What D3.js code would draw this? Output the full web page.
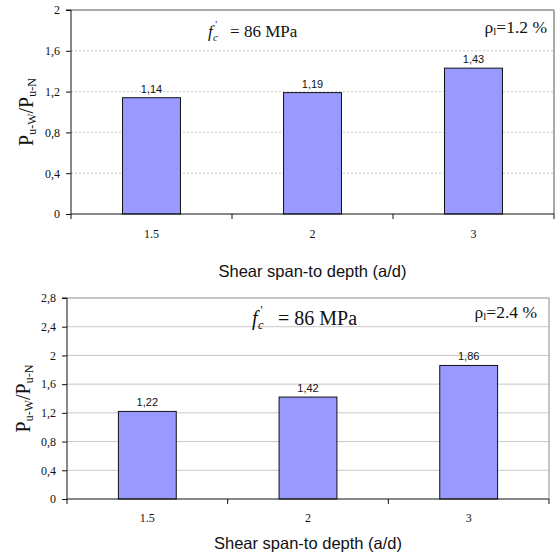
<!DOCTYPE html>
<html>
<head>
<meta charset="utf-8">
<script src="https://cdn.jsdelivr.net/npm/d3@7"></script>
<style>
  html, body { margin: 0; padding: 0; background: #fff; }
  svg { display: block; }
  .serif { font-family: "Liberation Serif", "Times New Roman", serif; }
  .sans { font-family: "Liberation Sans", Arial, sans-serif; }
</style>
</head>
<body>
<svg id="chart" width="555" height="557"></svg>
<script>
// ---- data ----
const categories = ["1.5", "2", "3"];
const valuesTop = [1.14, 1.19, 1.43];
const labelsTop = ["1,14", "1,19", "1,43"];
const valuesBottom = [1.22, 1.42, 1.86];
const labelsBottom = ["1,22", "1,42", "1,86"];
const ticksTop = [0, 0.4, 0.8, 1.2, 1.6, 2];
const tickLabelsTop = ["0", "0,4", "0,8", "1,2", "1,6", "2"];
const ticksBottom = [0, 0.4, 0.8, 1.2, 1.6, 2, 2.4, 2.8];
const tickLabelsBottom = ["0", "0,4", "0,8", "1,2", "1,6", "2", "2,4", "2,8"];
const xTitle = "Shear span-to depth (a/d)";
const rhoTop = "=1.2 %";
const rhoBottom = "=2.4 %";

const svg = d3.select("#chart");

function drawPanel(cfg) {
  const g = svg.append("g");
  const x = d3.scaleBand().domain(categories)
    .range([cfg.left, cfg.right]).paddingInner(0.64).paddingOuter(0.32);
  const y = d3.scaleLinear().domain([0, cfg.ymax]).range([cfg.bottom, cfg.top]);

  // gridlines
  g.selectAll("line.grid").data(cfg.ticks.filter(t => t > 0 && t < cfg.ymax))
    .enter().append("line")
    .attr("x1", cfg.left).attr("x2", cfg.right)
    .attr("y1", d => y(d)).attr("y2", d => y(d))
    .attr("stroke", cfg.gridColor).attr("stroke-width", 1)
    .attr("stroke-dasharray", cfg.gridDash || null);

  // top and right border
  g.append("line").attr("x1", cfg.left).attr("x2", cfg.right)
    .attr("y1", y(cfg.ymax)).attr("y2", y(cfg.ymax))
    .attr("stroke", "#8c8c8c").attr("stroke-width", cfg.borderW);
  g.append("line").attr("x1", cfg.right).attr("x2", cfg.right)
    .attr("y1", y(cfg.ymax)).attr("y2", y(0))
    .attr("stroke", "#8c8c8c").attr("stroke-width", cfg.borderW);

  // bars
  g.selectAll("rect.bar").data(cfg.values).enter().append("rect")
    .attr("x", (d, i) => x(categories[i]))
    .attr("y", d => y(d))
    .attr("width", x.bandwidth())
    .attr("height", d => y(0) - y(d))
    .attr("fill", "#9999ff").attr("stroke", "#111").attr("stroke-width", 1);

  // value labels
  g.selectAll("text.val").data(cfg.values).enter().append("text")
    .attr("class", "sans")
    .attr("x", (d, i) => x(categories[i]) + x.bandwidth() / 2)
    .attr("y", d => y(d) - 5)
    .attr("text-anchor", "middle")
    .style("font-size", "11px").attr("fill", "#111")
    .text((d, i) => cfg.labels[i]);

  // y axis
  const yAxis = d3.axisLeft(y).tickValues(cfg.ticks).tickSize(5).tickPadding(6)
    .tickFormat((d, i) => cfg.tickLabels[i]);
  const ya = g.append("g").attr("transform", `translate(${cfg.left},0)`).call(yAxis);
  ya.attr("font-family", null).attr("font-size", null);
  ya.select(".domain").attr("stroke", "#111").attr("d", `M-5,${y(cfg.ymax)}H0V${y(0)}`);
  ya.selectAll(".tick line").attr("stroke", "#111");
  ya.selectAll(".tick text").attr("class", "serif").style("font-size", "12px").attr("fill", "#111");

  // x axis
  const xa = g.append("g").attr("transform", `translate(0,${cfg.bottom})`);
  xa.append("line").attr("x1", cfg.left).attr("x2", cfg.right)
    .attr("y1", 0).attr("y2", 0).attr("stroke", "#111");
  const step = x.step();
  const bounds = categories.map(c => x(c) - (step - x.bandwidth()) / 2);
  bounds.push(cfg.right);
  xa.selectAll("line.xt").data(bounds).enter().append("line")
    .attr("x1", d => d).attr("x2", d => d).attr("y1", 0).attr("y2", 5)
    .attr("stroke", "#111");
  xa.selectAll("text.xl").data(categories).enter().append("text")
    .attr("class", "serif")
    .attr("x", d => x(d) + x.bandwidth() / 2)
    .attr("y", cfg.catBase - cfg.bottom)
    .attr("text-anchor", "middle")
    .style("font-size", "12px").attr("fill", "#111")
    .text(d => d);

  // x title
  g.append("text").attr("class", "sans")
    .attr("x", (cfg.left + cfg.right) / 2).attr("y", cfg.titleBase)
    .attr("text-anchor", "middle").style("font-size", "16.5px")
    .attr("fill", "#111").text(xTitle);

  // y title
  const yt = g.append("text").attr("class", "serif")
    .attr("transform", `translate(${cfg.ylabX},${(cfg.top + cfg.bottom) / 2}) rotate(-90)`)
    .attr("text-anchor", "middle").attr("fill", "#111");
  yt.append("tspan").style("font-size", "20px").text("P");
  yt.append("tspan").style("font-size", "12px").attr("dy", 3).text("u-W");
  yt.append("tspan").style("font-size", "20px").attr("dy", -3).text("/P");
  yt.append("tspan").style("font-size", "12px").attr("dy", 3).text("u-N");

  // f'c annotation
  const a = cfg.fc;
  g.append("text").attr("class", "serif").attr("x", a.x).attr("y", a.y)
    .style("font-style", "italic").style("font-size", a.fs + "px").attr("fill", "#111").text("f");
  g.append("text").attr("class", "serif").attr("x", a.x + a.fs * 0.3).attr("y", a.y + 4)
    .style("font-style", "italic").style("font-size", (a.fs * 0.62) + "px").attr("fill", "#111").text("c");
  g.append("text").attr("class", "serif").attr("x", a.x + a.fs * 0.42).attr("y", a.y - a.fs * 0.55)
    .style("font-size", (a.fs * 0.6) + "px").attr("fill", "#111").text("'");
  g.append("text").attr("class", "serif").attr("x", a.x + a.fs * 1.3).attr("y", a.y)
    .style("font-size", a.fs + "px").attr("fill", "#111").text(a.text);

  // rho annotation
  const r = g.append("text").attr("class", "serif").attr("x", cfg.rho.x).attr("y", cfg.rho.y)
    .attr("text-anchor", "end").attr("fill", "#111");
  r.append("tspan").style("font-size", "17.5px").text("ρ");
  r.append("tspan").style("font-size", "11px").attr("dy", 2).text("l");
  r.append("tspan").style("font-size", "17.5px").attr("dy", -2).text(cfg.rho.text);
}

drawPanel({
  left: 71, right: 554, top: 10, bottom: 214, ymax: 2,
  values: valuesTop, labels: labelsTop, ticks: ticksTop, tickLabels: tickLabelsTop,
  gridColor: "#c8c8c8", gridDash: "2,2", borderW: 1.5,
  catBase: 238, titleBase: 277, ylabX: 33,
  fc: { x: 208, y: 37, fs: 17, text: "= 86 MPa" },
  rho: { x: 547, y: 33, text: rhoTop }
});

drawPanel({
  left: 67, right: 549, top: 298, bottom: 499, ymax: 2.8,
  values: valuesBottom, labels: labelsBottom, ticks: ticksBottom, tickLabels: tickLabelsBottom,
  gridColor: "#c8c8c8", gridDash: null, borderW: 1,
  catBase: 522, titleBase: 549, ylabX: 30,
  fc: { x: 252, y: 325, fs: 20, text: "= 86 MPa" },
  rho: { x: 537, y: 318, text: rhoBottom }
});
</script>
</body>
</html>
